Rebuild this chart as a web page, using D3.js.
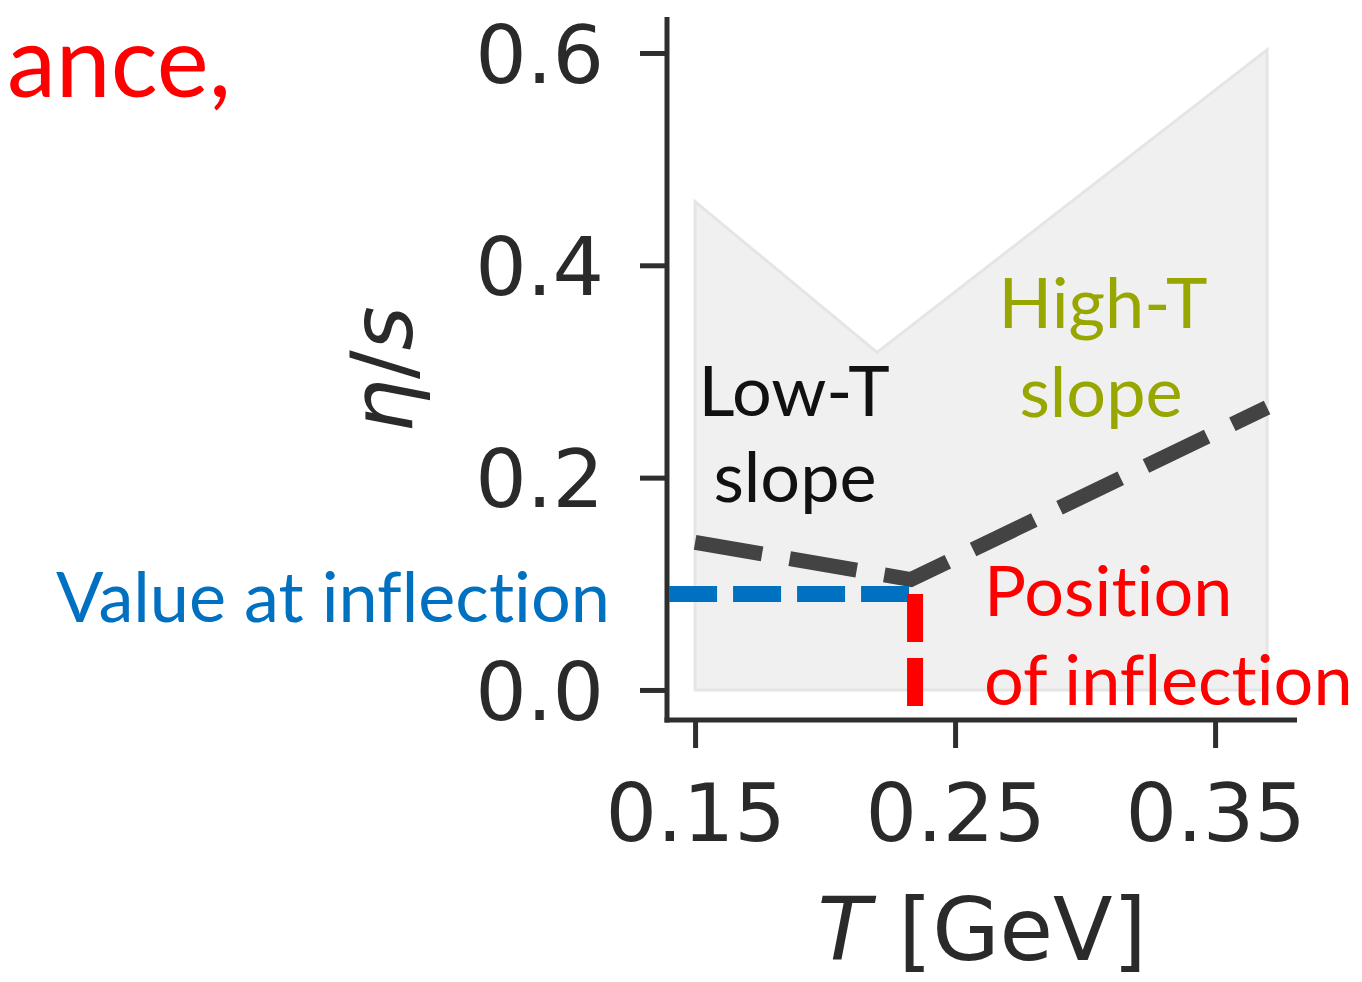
<!DOCTYPE html>
<html>
<head>
<meta charset="utf-8">
<script src="https://cdn.jsdelivr.net/npm/d3@7"></script>
<style>
  html, body { margin: 0; padding: 0; background: #ffffff; }
  svg { display: block; }
  text { font-variant-ligatures: none; font-feature-settings: "liga" 0, "clig" 0; }
</style>
</head>
<body>
<svg id="chart" width="1362" height="982"></svg>
<script>
// ---------------- data ----------------
const xTicks = [0.15, 0.25, 0.35];
const yTicks = [0.0, 0.2, 0.4, 0.6];
const xDomain = [0.1392, 0.3815];
const yDomain = [-0.0283, 0.632];

// posterior band (upper / lower edge)
const bandT = [0.15, 0.22, 0.37];
const bandUpper = [0.46, 0.318, 0.603];
const bandLower = [0.0, 0.0, 0.0];

// piecewise-linear eta/s
const lineT = [0.15, 0.233, 0.37];
const lineEta = [0.139, 0.104, 0.266];

// inflection markers
const valueLineT = [0.140, 0.2323];
const valueLineEta = [0.0904, 0.0904];
const positionLineT = [0.2346, 0.2346];
const positionLineEta = [0.0904, -0.015];

// ---------------- layout ----------------
const svg = d3.select("#chart");
const x = d3.scaleLinear().domain(xDomain).range([667, 1297]);
const y = d3.scaleLinear().domain(yDomain).range([720, 19]);

const axisColor = "#2e2e2e";
const tickFont = "'DejaVu Sans', sans-serif";
const slideFont = "Lato, 'Open Sans', sans-serif";

// band
const bandData = bandT.map((t, i) => ({ t, lo: bandLower[i], hi: bandUpper[i] }));
svg.append("path")
  .datum(bandData)
  .attr("d", d3.area().x(d => x(d.t)).y0(d => y(d.lo)).y1(d => y(d.hi)))
  .attr("fill", "#f0f0f0")
  .attr("stroke", "#e5e5e5")
  .attr("stroke-width", 3);

// dark dashed line
const lineData = lineT.map((t, i) => ({ t, v: lineEta[i] }));
svg.append("path")
  .datum(lineData)
  .attr("d", d3.line().x(d => x(d.t)).y(d => y(d.v)))
  .attr("fill", "none")
  .attr("stroke", "#434343")
  .attr("stroke-width", 15)
  .attr("stroke-dasharray", "68 28")
  .attr("stroke-linejoin", "miter");

// axes
const xAxis = d3.axisBottom(x).tickValues(xTicks).tickFormat(d3.format(".2f")).tickSize(28).tickPadding(10);
const yAxis = d3.axisLeft(y).tickValues(yTicks).tickFormat(d3.format(".1f")).tickSize(27).tickPadding(10);

const gx = svg.append("g").attr("transform", `translate(0,${y.range()[0]})`).call(xAxis);
const gy = svg.append("g").attr("transform", `translate(${x.range()[0]},0)`).call(yAxis);

[gx, gy].forEach(g => {
  g.select(".domain").remove();
  g.selectAll(".tick line").attr("stroke", axisColor).attr("stroke-width", 5);
  g.selectAll(".tick text")
    .attr("fill", "#2a2a2a")
    .attr("font-family", tickFont)
    .attr("font-size", 81);
});
gx.selectAll(".tick text").attr("dy", null).attr("y", 121);
gy.selectAll(".tick text").attr("dy", "0.36em").attr("x", -63);

// spines
svg.append("line")
  .attr("x1", x.range()[0]).attr("x2", x.range()[0])
  .attr("y1", y.range()[1] - 2).attr("y2", y.range()[0] + 2.5)
  .attr("stroke", axisColor).attr("stroke-width", 5);
svg.append("line")
  .attr("x1", x.range()[0] - 2.5).attr("x2", x.range()[1])
  .attr("y1", y.range()[0]).attr("y2", y.range()[0])
  .attr("stroke", axisColor).attr("stroke-width", 5);

// axis labels
const xl = svg.append("text")
  .attr("x", (x.range()[0] + x.range()[1]) / 2)
  .attr("y", 960)
  .attr("text-anchor", "middle")
  .attr("font-family", tickFont)
  .attr("font-size", 87)
  .attr("fill", "#2a2a2a");
xl.append("tspan").attr("font-style", "italic").text("T");
xl.append("tspan").text(" [GeV]");

const yl = svg.append("text")
  .attr("transform", `translate(412,${(y.range()[0] + y.range()[1]) / 2}) rotate(-90)`)
  .attr("text-anchor", "middle")
  .attr("font-family", tickFont)
  .attr("font-size", 85)
  .attr("fill", "#2a2a2a");
yl.append("tspan").attr("font-style", "italic").text("η");
yl.append("tspan").text("/");
yl.append("tspan").attr("font-style", "italic").text("s");

// inflection dashed markers
svg.append("path")
  .datum(valueLineT.map((t, i) => ({ t, v: valueLineEta[i] })))
  .attr("d", d3.line().x(d => x(d.t)).y(d => y(d.v)))
  .attr("fill", "none")
  .attr("stroke", "#0070C0")
  .attr("stroke-width", 16)
  .attr("stroke-dasharray", "48 16");
svg.append("path")
  .datum(positionLineT.map((t, i) => ({ t, v: positionLineEta[i] })))
  .attr("d", d3.line().x(d => x(d.t)).y(d => y(d.v)))
  .attr("fill", "none")
  .attr("stroke", "#FF0000")
  .attr("stroke-width", 16)
  .attr("stroke-dasharray", "48 16");

// slide annotations
function fitSize(str, targetWidth) {
  const t = svg.append("text").attr("font-family", slideFont).attr("font-size", 100).text(str);
  const w = t.node().getComputedTextLength();
  t.remove();
  return 100 * targetWidth / w;
}
const annSize = fitSize("Value at inflection", 554);
const bigSize = fitSize("ance,", 224);

const annotations = [
  { text: "ance,", x: 7, y: 97, anchor: "start", color: "#FF0000", size: bigSize },
  { text: "Value at inflection", x: 56, y: 622, anchor: "start", color: "#0070C0", size: annSize },
  { text: "Low-T", x: 794, y: 416, anchor: "middle", color: "#111111", size: annSize },
  { text: "slope", x: 795, y: 502, anchor: "middle", color: "#111111", size: annSize },
  { text: "High-T", x: 1103, y: 328, anchor: "middle", color: "#98A600", size: annSize },
  { text: "slope", x: 1101, y: 417, anchor: "middle", color: "#98A600", size: annSize },
  { text: "Position", x: 984, y: 616, anchor: "start", color: "#FF0000", size: annSize },
  { text: "of inflection", x: 984, y: 705, anchor: "start", color: "#FF0000", size: annSize }
];
svg.selectAll("text.ann")
  .data(annotations)
  .join("text")
  .attr("class", "ann")
  .attr("x", d => d.x)
  .attr("y", d => d.y)
  .attr("text-anchor", d => d.anchor)
  .attr("font-family", slideFont)
  .attr("font-size", d => d.size)
  .attr("fill", d => d.color)
  .text(d => d.text);
</script>
</body>
</html>
